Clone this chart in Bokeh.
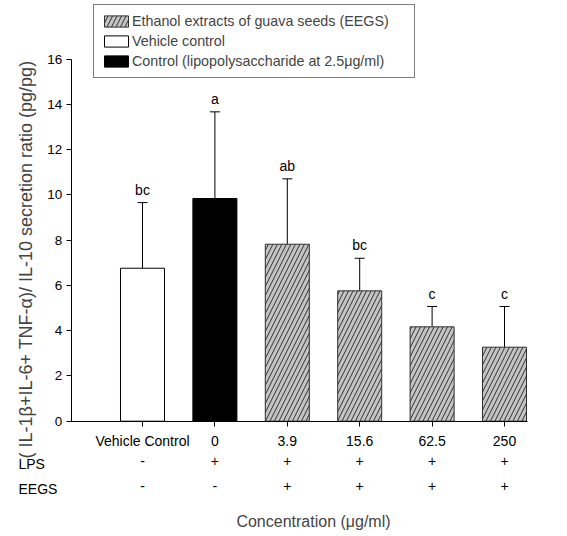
from bokeh.plotting import figure
from bokeh.models import (ColumnDataSource, Range1d, FixedTicker, LinearAxis,
                          Whisker, TeeHead, Legend, LegendItem, Label)
from bokeh.embed import file_html
from bokeh.resources import INLINE
from bokeh.core.properties import value

# ---- data ----
categories = ["Vehicle Control", "0", "3.9", "15.6", "62.5", "250"]
lps_row = ["-", "+", "+", "+", "+", "+"]
eegs_row = ["-", "-", "+", "+", "+", "+"]
means = [6.76, 9.84, 7.82, 5.76, 4.17, 3.27]
errors = [2.90, 3.83, 2.89, 1.44, 0.90, 1.80]
letters = ["bc", "a", "ab", "bc", "c", "c"]
y_ticks = [0, 2, 4, 6, 8, 10, 12, 14, 16]

FONT = "Liberation Sans"
idx = list(range(len(categories)))
tops = [m + e for m, e in zip(means, errors)]

# pixel <-> data helpers for layout (frame covers the whole canvas)
W_PX, H_PX = 551, 530
X0_PX, DX_PX = 142.0, 72.4      # px of category 0, px per category
Y0_PX, DY_PX = 420.7, 22.63     # px of value 0, px per unit
def xd(px): return (px - X0_PX) / DX_PX
def yd(py): return (Y0_PX - py) / DY_PX

p = figure(width=W_PX, height=H_PX,
           min_border_left=0, min_border_right=0,
           min_border_top=0, min_border_bottom=0,
           x_range=Range1d(xd(0), xd(W_PX)), y_range=Range1d(yd(H_PX), yd(0)),
           output_backend="svg", toolbar_location=None)
p.outline_line_color = None
p.xgrid.visible = False
p.ygrid.visible = False
p.background_fill_color = "white"
p.border_fill_color = "white"

X_LEFT, X_RIGHT = xd(70.7), xd(527)

src_all = ColumnDataSource(dict(x=idx, top=means, upper=tops))
veh = ColumnDataSource(dict(x=idx[0:1], top=means[0:1]))
ctl = ColumnDataSource(dict(x=idx[1:2], top=means[1:2]))
ext = ColumnDataSource(dict(x=idx[2:], top=means[2:]))

W = 0.608
r_veh = p.vbar(x="x", top="top", bottom=0, width=W, source=veh,
               fill_color="white", line_color="black", line_width=1)
r_ctl = p.vbar(x="x", top="top", bottom=0, width=W, source=ctl,
               fill_color="black", line_color="black", line_width=1)
r_ext = p.vbar(x="x", top="top", bottom=0, width=W, source=ext,
               fill_color="#c4c4c4", line_color="#303030", line_width=1,
               hatch_pattern="/", hatch_color="#303030", hatch_scale=9,
               hatch_weight=1)

wh = Whisker(base="x", lower="top", upper="upper", source=src_all,
             line_color="black", line_width=1,
             upper_head=TeeHead(size=10, line_color="black", line_width=1),
             lower_head=None)
p.add_layout(wh)

lab_src = ColumnDataSource(dict(x=idx, y=[t + 0.57 for t in tops], text=letters))
p.text(x="x", y="y", text="text", source=lab_src, text_align="center",
       text_baseline="alphabetic", text_font=value(FONT),
       text_font_size="14px", text_color="black")

# ---- axes ----
xa = p.xaxis[0]
xa.fixed_location = 0
xa.bounds = (X_LEFT, X_RIGHT)
xa.ticker = FixedTicker(ticks=idx)
xa.major_label_overrides = {i: c for i, c in zip(idx, categories)}
xa.minor_tick_line_color = None
xa.major_tick_in = 0
xa.major_tick_out = 5
xa.major_label_standoff = 7
xa.major_label_text_font = FONT
xa.major_label_text_font_size = "14px"
xa.major_label_text_color = "black"
xa.axis_line_color = "black"
xa.major_tick_line_color = "black"

def row_axis(labels, ypx):
    ax = LinearAxis(ticker=FixedTicker(ticks=idx),
                    major_label_overrides={i: s for i, s in zip(idx, labels)})
    ax.fixed_location = yd(ypx)
    ax.axis_line_color = None
    ax.major_tick_line_color = None
    ax.minor_tick_line_color = None
    ax.major_tick_in = 0
    ax.major_tick_out = 0
    ax.major_label_standoff = 0
    ax.major_label_text_font = FONT
    ax.major_label_text_font_size = "14px"
    ax.major_label_text_color = "black"
    return ax

ax_lps = row_axis(lps_row, 455)
ax_eegs = row_axis(eegs_row, 480)
ax_eegs.bounds = (xd(99), xd(527))
ax_eegs.axis_label = "Concentration (\u03bcg/ml)"
ax_eegs.axis_label_text_font = FONT
ax_eegs.axis_label_text_font_size = "16px"
ax_eegs.axis_label_text_font_style = "normal"
ax_eegs.axis_label_standoff = 19
p.add_layout(ax_lps, "below")
p.add_layout(ax_eegs, "below")

ya = p.yaxis[0]
ya.fixed_location = X_LEFT
ya.bounds = (0, 16)
ya.ticker = FixedTicker(ticks=y_ticks)
ya.minor_tick_line_color = None
ya.major_tick_in = 0
ya.major_tick_out = 5
ya.major_label_standoff = 4
ya.major_label_text_font = FONT
ya.major_label_text_font_size = "13.5px"
ya.major_label_text_color = "black"
ya.axis_line_color = "black"
ya.major_tick_line_color = "black"

# separate, invisible axis that only carries the y title (centred as in the reference)
ylab = LinearAxis(ticker=FixedTicker(ticks=[]), fixed_location=X_LEFT,
                  bounds=(yd(462), yd(56)))
ylab.axis_line_color = None
ylab.major_tick_line_color = None
ylab.minor_tick_line_color = None
ylab.major_tick_in = 0
ylab.major_tick_out = 0
ylab.axis_label = "( IL-1\u03b2+IL-6+ TNF-\u03b1)/ IL-10 secretion ratio (pg/pg)"
ylab.axis_label_text_font = FONT
ylab.axis_label_text_font_size = "18px"
ylab.axis_label_text_font_style = "normal"
ylab.axis_label_standoff = 36
p.add_layout(ylab, "left")

for name, ypx in (("LPS", 463), ("EEGS", 488)):
    p.add_layout(Label(x=xd(18), y=yd(ypx), text=name, text_font=FONT,
                       text_font_size="14px", text_baseline="middle",
                       text_align="left", text_color="black"))

legend = Legend(items=[
    LegendItem(label="Ethanol extracts of guava seeds (EEGS)", renderers=[r_ext]),
    LegendItem(label="Vehicle control", renderers=[r_veh]),
    LegendItem(label="Control (lipopolysaccharide at 2.5\u03bcg/ml)", renderers=[r_ctl]),
], location=(93, H_PX - 78))
legend.glyph_width = 30
legend.glyph_height = 14
legend.label_height = 18
legend.label_width = 275
legend.spacing = 2
legend.padding = 7
legend.margin = 0
legend.label_standoff = 1
legend.label_text_font = FONT
legend.label_text_font_size = "14.3px"
legend.border_line_color = "black"
legend.border_line_width = 1
legend.background_fill_alpha = 1
p.add_layout(legend, "center")

open("out.html", "w").write(file_html(p, INLINE))
